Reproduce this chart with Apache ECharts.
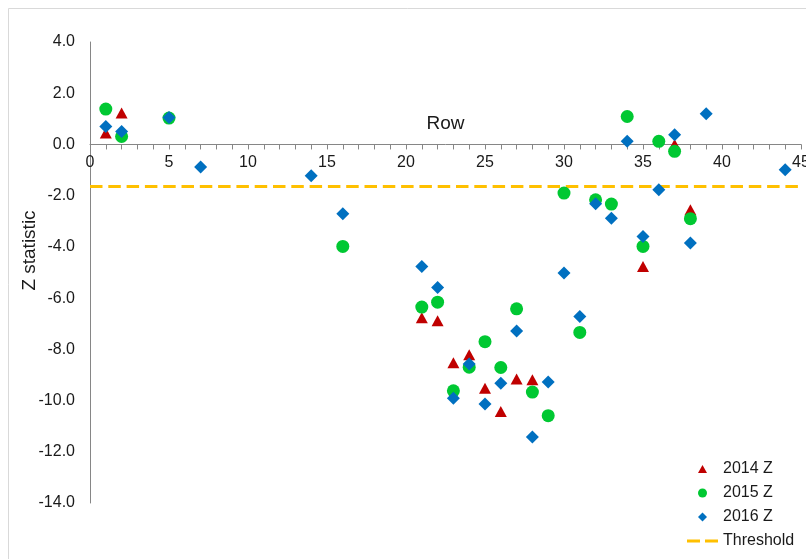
<!DOCTYPE html>
<html>
<head>
<meta charset="utf-8">
<script src="https://cdn.jsdelivr.net/npm/echarts@6/dist/echarts.min.js"></script>
<style>
html,body{margin:0;padding:0;background:#fff;}
#chart{width:806px;height:559px;}
</style>
</head>
<body>
<div id="chart"></div>
<script>
// Row numbers and Z statistics per year
var rows2014 = [1, 2, 21, 22, 23, 24, 25, 26, 27, 28, 35, 37, 38];
var z2014 = [0.45, 1.23, -6.77, -6.88, -8.52, -8.21, -9.52, -10.43, -9.16, -9.19, -4.77, 0.0, -2.55];

var rows2015 = [1, 2, 5, 16, 21, 22, 23, 24, 25, 26, 27, 28, 29, 30, 31, 32, 33, 34, 35, 36, 37, 38];
var z2015 = [1.38, 0.31, 1.03, -3.98, -6.35, -6.16, -9.62, -8.70, -7.70, -8.71, -6.42, -9.67, -10.59, -1.90, -7.34, -2.16, -2.33, 1.09, -3.98, 0.12, -0.27, -2.90];

var rows2016 = [1, 2, 5, 7, 14, 16, 21, 22, 23, 24, 25, 26, 27, 28, 29, 30, 31, 32, 33, 34, 35, 36, 37, 38, 39, 44];
var z2016 = [0.70, 0.51, 1.05, -0.88, -1.22, -2.71, -4.77, -5.59, -9.91, -8.57, -10.13, -9.32, -7.28, -11.42, -9.28, -5.02, -6.72, -2.32, -2.88, 0.12, -3.59, -1.77, 0.38, -3.85, 1.20, -0.99];

var thresholdX = [0, 45];
var thresholdValue = -1.645;

var seriesNames = ['2014 Z', '2015 Z', '2016 Z', 'Threshold'];

function pairs(xs, ys) { return xs.map(function (x, i) { return [x, ys[i]]; }); }

// legend icons (centred inside a 31x10 legend box)
var iconTriangle = 'path://M0,0M31,10M11,9L15.5,1L20,9Z';
var iconCircle = 'path://M0,0M31,10M20,5A4.5,4.5,0,1,1,11,5A4.5,4.5,0,1,1,20,5Z';
var iconDiamond = 'path://M0,0M31,10M15.5,0.5L20,5L15.5,9.5L11,5Z';
var iconDash = 'path://M0,0M31,10M0,3.5L13,3.5L13,6.5L0,6.5ZM18,3.5L31,3.5L31,6.5L18,6.5Z';

var chart = echarts.init(document.getElementById('chart'));
var font = 'Liberation Sans, Arial, sans-serif';
var option = {
  backgroundColor: '#ffffff',
  animation: false,
  textStyle: { fontFamily: font },
  graphic: [{
    type: 'rect', silent: true, z: -10,
    shape: { x: 8.5, y: 8.5, width: 1000, height: 1000 },
    style: { fill: 'none', stroke: '#d9d9d9', lineWidth: 1 }
  }],
  grid: { left: 90, right: 5, top: 42, bottom: 56, containLabel: false, outerBoundsMode: 'none' },
  legend: {
    orient: 'vertical', left: 687, top: 461, padding: 0,
    itemWidth: 31, itemHeight: 10, itemGap: 8,
    textStyle: { fontSize: 16, color: '#1a1a1a', fontFamily: font },
    data: [
      { name: seriesNames[0], icon: iconTriangle },
      { name: seriesNames[1], icon: iconCircle },
      { name: seriesNames[2], icon: iconDiamond },
      { name: seriesNames[3], icon: iconDash }
    ]
  },
  xAxis: {
    type: 'value', min: 0, max: 45, interval: 5,
    name: 'Row', nameLocation: 'middle', nameGap: -30,
    nameTextStyle: { fontSize: 19, color: '#1a1a1a', fontFamily: font },
    axisLine: { onZero: false, lineStyle: { color: '#868686', width: 1 } },
    axisTick: { show: true, length: 5, lineStyle: { color: '#868686' } },
    minorTick: { show: true, splitNumber: 5, length: 5, lineStyle: { color: '#868686' } },
    splitLine: { show: false },
    axisLabel: { fontSize: 16, color: '#1a1a1a', margin: 10, fontFamily: font }
  },
  yAxis: {
    type: 'value', min: -14, max: 4, interval: 2,
    name: 'Z statistic', nameLocation: 'middle', nameRotate: 90, nameGap: 51,
    nameMoveOverlap: false,
    nameTextStyle: { fontSize: 19, color: '#1a1a1a', fontFamily: font, padding: [0, 0, 0, 44] },
    axisLine: { show: true, onZero: false, lineStyle: { color: '#868686', width: 1 } },
    axisTick: { show: false },
    splitLine: { show: false },
    axisLabel: { fontSize: 16, color: '#1a1a1a', margin: 15, fontFamily: font,
      formatter: function (v) { return v.toFixed(1); } }
  },
  series: [
    {
      name: seriesNames[3], type: 'line', z: 1,
      data: pairs(thresholdX, [thresholdValue, thresholdValue]),
      symbol: 'none', showSymbol: false, silent: true,
      lineStyle: { color: '#FFC000', width: 3, type: [12.5, 5.8], cap: 'butt' },
      itemStyle: { color: '#FFC000' }
    },
    {
      name: seriesNames[0], type: 'scatter', z: 2,
      symbol: 'triangle', symbolSize: [12, 11],
      itemStyle: { color: '#C00000', opacity: 1 },
      data: pairs(rows2014, z2014)
    },
    {
      name: seriesNames[1], type: 'scatter', z: 3,
      symbol: 'circle', symbolSize: 13,
      itemStyle: { color: '#00C832', opacity: 1 },
      data: pairs(rows2015, z2015)
    },
    {
      name: seriesNames[2], type: 'scatter', z: 4,
      symbol: 'diamond', symbolSize: 13,
      itemStyle: { color: '#0070C0', opacity: 1 },
      data: pairs(rows2016, z2016)
    }
  ]
};
chart.setOption(option);
// Move the whole x axis (line, ticks, labels, name) to y = 0, as in the reference
var yZero = chart.convertToPixel({ yAxisIndex: 0 }, 0);
var yMin = chart.convertToPixel({ yAxisIndex: 0 }, -14);
chart.setOption({ xAxis: { offset: -(yMin - yZero) } });
</script>
</body>
</html>
